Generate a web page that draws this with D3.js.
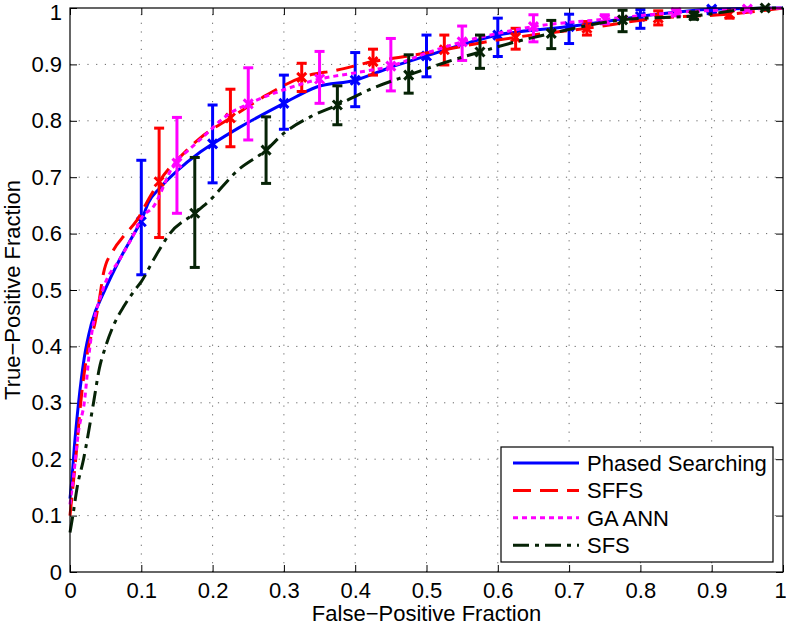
<!DOCTYPE html>
<html>
<head>
<meta charset="utf-8">
<script src="https://cdn.jsdelivr.net/npm/d3@7"></script>
<style>
  body { margin: 0; background: #fff; }
  text { font-family: "Liberation Sans", Arial, Helvetica, sans-serif; }
</style>
</head>
<body>
<div id="main"></div>
<script>
var ctx = {
    w: 786,
    h: 627,
    left: 70,
    right: 783,
    top: 8,
    bottom: 572
};

// tick values (both axes) and their labels
var ticks = [0, 0.1, 0.2, 0.3, 0.4, 0.5, 0.6, 0.7, 0.8, 0.9, 1];
var tickLabels = ["0", "0.1", "0.2", "0.3", "0.4", "0.5", "0.6", "0.7", "0.8", "0.9", "1"];

var seriesNames = ["Phased Searching", "SFFS", "GA ANN", "SFS"];

// ROC curves, [false-positive fraction, true-positive fraction]
var phasedCurve = [[0,0.13],[0.003,0.17],[0.006,0.22],[0.012,0.3],[0.02,0.38],[0.03,0.44],[0.049,0.5],
    [0.07,0.555],[0.09,0.6],[0.1,0.623],[0.11,0.655],[0.126,0.681],[0.15,0.711],[0.18,0.742],[0.2,0.759],
    [0.236,0.787],[0.3,0.831],[0.346,0.86],[0.4,0.872],[0.45,0.895],[0.5,0.915],[0.55,0.935],[0.6,0.952],
    [0.7,0.967],[0.8,0.985],[0.9,0.998],[1,1]];
var sffsCurve = [[0,0.1],[0.004,0.15],[0.008,0.2],[0.015,0.3],[0.026,0.4],[0.035,0.441],[0.042,0.49],
    [0.047,0.53],[0.061,0.571],[0.077,0.598],[0.094,0.624],[0.112,0.665],[0.125,0.692],[0.164,0.748],
    [0.182,0.769],[0.225,0.805],[0.275,0.845],[0.325,0.877],[0.375,0.89],[0.425,0.905],[0.475,0.915],
    [0.525,0.926],[0.575,0.938],[0.625,0.948],[0.725,0.964],[0.825,0.982],[0.925,0.989],[1,1]];
var gaannCurve = [[0,0.12],[0.005,0.17],[0.012,0.25],[0.02,0.3],[0.028,0.4],[0.046,0.5],[0.07,0.555],
    [0.09,0.6],[0.1,0.627],[0.117,0.648],[0.147,0.725],[0.166,0.748],[0.182,0.766],[0.224,0.813],
    [0.25,0.83],[0.3,0.855],[0.35,0.874],[0.4,0.885],[0.45,0.897],[0.5,0.92],[0.55,0.94],[0.6,0.955],
    [0.65,0.967],[0.75,0.98],[0.85,0.992],[0.95,0.998],[1,1]];
var sfsCurve = [[0,0.07],[0.004,0.1],[0.01,0.15],[0.019,0.2],[0.033,0.3],[0.041,0.36],[0.05,0.4],
    [0.062,0.44],[0.076,0.472],[0.091,0.5],[0.1,0.515],[0.12,0.56],[0.14,0.6],[0.175,0.636],[0.192,0.654],
    [0.236,0.713],[0.275,0.748],[0.3,0.778],[0.337,0.807],[0.375,0.828],[0.425,0.858],[0.475,0.881],
    [0.525,0.903],[0.575,0.922],[0.625,0.94],[0.675,0.955],[0.775,0.979],[0.875,0.986],[0.975,1],[1,1]];

// error bars, [fpf, mean tpf, low, high]
var phasedBars = [[0.1,0.621,0.527,0.73],[0.2,0.759,0.69,0.828],[0.3,0.831,0.785,0.881],
    [0.4,0.872,0.825,0.921],[0.5,0.915,0.878,0.952],[0.6,0.952,0.914,0.982],[0.7,0.967,0.937,0.989],
    [0.8,0.985,0.964,0.997],[0.9,0.998,0.99,1.0]];
var sffsBars = [[0.125,0.692,0.593,0.787],[0.225,0.805,0.754,0.856],[0.325,0.877,0.852,0.902],
    [0.425,0.905,0.881,0.927],[0.525,0.926,0.899,0.952],[0.625,0.948,0.927,0.964],[0.725,0.964,0.952,0.976],
    [0.825,0.982,0.97,0.995],[0.925,0.989,0.982,0.995]];
var gaannBars = [[0.15,0.725,0.636,0.806],[0.25,0.83,0.766,0.894],[0.35,0.874,0.831,0.923],
    [0.45,0.897,0.853,0.946],[0.55,0.94,0.907,0.968],[0.65,0.967,0.94,0.988],[0.75,0.98,0.972,0.988],
    [0.85,0.992,0.986,0.998],[0.95,0.998,0.995,1.0]];
var sfsBars = [[0.175,0.636,0.54,0.735],[0.275,0.748,0.689,0.807],[0.375,0.828,0.793,0.862],
    [0.475,0.881,0.849,0.917],[0.575,0.922,0.893,0.952],[0.675,0.955,0.928,0.978],[0.775,0.979,0.958,0.996],
    [0.875,0.986,0.98,0.993],[0.975,1.0,0.998,1.0]];

var series = [
    {name: seriesNames[0], curve: phasedCurve, bars: phasedBars, color: "#0000ff", dash: null},
    {name: seriesNames[1], curve: sffsCurve, bars: sffsBars, color: "#ff0000", dash: "18,9"},
    {name: seriesNames[2], curve: gaannCurve, bars: gaannBars, color: "#ff00ff", dash: "5,4"},
    {name: seriesNames[3], curve: sfsCurve, bars: sfsBars, color: "#062306", dash: "16,6,4,6"}
];

var svg = d3.select("#main").append("svg")
    .attr("width", ctx.w)
    .attr("height", ctx.h);

var x = d3.scaleLinear().domain([0, 1]).range([ctx.left, ctx.right]);
var y = d3.scaleLinear().domain([0, 1]).range([ctx.bottom, ctx.top]);

var fmt = function(d){ return tickLabels[ticks.indexOf(d)]; };

// dotted grid
var grid = svg.append("g").attr("class", "grid");
grid.selectAll("line.v").data(ticks.slice(1, -1)).enter().append("line")
    .attr("x1", function(d){ return x(d); }).attr("x2", function(d){ return x(d); })
    .attr("y1", ctx.bottom).attr("y2", ctx.top);
grid.selectAll("line.h").data(ticks.slice(1, -1)).enter().append("line")
    .attr("y1", function(d){ return y(d); }).attr("y2", function(d){ return y(d); })
    .attr("x1", ctx.left).attr("x2", ctx.right);
grid.selectAll("line")
    .style("stroke", "#666")
    .style("stroke-width", 1)
    .style("stroke-dasharray", "1.2,7.5");

// axes, ticks pointing inward on all four sides
var axB = svg.append("g").attr("transform", "translate(0," + ctx.bottom + ")")
    .call(d3.axisBottom(x).tickValues(ticks).tickFormat(fmt).tickSize(-7).tickSizeOuter(0).tickPadding(10));
var axL = svg.append("g").attr("transform", "translate(" + ctx.left + ",0)")
    .call(d3.axisLeft(y).tickValues(ticks).tickFormat(fmt).tickSize(-7).tickSizeOuter(0).tickPadding(8));
svg.append("g").attr("transform", "translate(0," + ctx.top + ")")
    .call(d3.axisTop(x).tickValues(ticks).tickFormat("").tickSize(-7).tickSizeOuter(0));
svg.append("g").attr("transform", "translate(" + ctx.right + ",0)")
    .call(d3.axisRight(y).tickValues(ticks).tickFormat("").tickSize(-7).tickSizeOuter(0));
svg.selectAll(".tick text")
    .style("font-size", "22px")
    .style("font-family", "'Liberation Sans', Arial, sans-serif")
    .style("fill", "#000");
// keep the end labels inside the page
axB.selectAll(".tick text").filter(function(d){ return d === 1; }).attr("dx", "-3");
axL.selectAll(".tick text").filter(function(d){ return d === 1; }).attr("dy", "0.52em");
svg.selectAll(".domain").remove();
svg.selectAll(".tick line").style("stroke", "#000");

var line = d3.line()
    .x(function(d){ return x(d[0]); })
    .y(function(d){ return y(d[1]); })
    .curve(d3.curveMonotoneX);

var plot = svg.append("g");
series.forEach(function(s){
    var g = plot.append("g");
    g.append("path")
        .datum(s.curve)
        .attr("d", line)
        .style("fill", "none")
        .style("stroke", s.color)
        .style("stroke-width", 3)
        .style("stroke-dasharray", s.dash);

    var bars = g.selectAll("g.bar").data(s.bars).enter().append("g")
        .style("stroke", s.color)
        .style("stroke-width", 3);
    bars.append("line")
        .attr("x1", function(d){ return x(d[0]); }).attr("x2", function(d){ return x(d[0]); })
        .attr("y1", function(d){ return y(d[2]); }).attr("y2", function(d){ return y(d[3]); });
    bars.append("line")
        .attr("x1", function(d){ return x(d[0]) - 5; }).attr("x2", function(d){ return x(d[0]) + 5; })
        .attr("y1", function(d){ return y(d[2]); }).attr("y2", function(d){ return y(d[2]); });
    bars.append("line")
        .attr("x1", function(d){ return x(d[0]) - 5; }).attr("x2", function(d){ return x(d[0]) + 5; })
        .attr("y1", function(d){ return y(d[3]); }).attr("y2", function(d){ return y(d[3]); });
    // x markers
    bars.append("path")
        .attr("d", function(d){
            var cx = x(d[0]), cy = y(d[1]), r = 4.5;
            return "M" + (cx - r) + "," + (cy - r) + "L" + (cx + r) + "," + (cy + r) +
                   "M" + (cx - r) + "," + (cy + r) + "L" + (cx + r) + "," + (cy - r);
        });
});

// box
svg.append("rect")
    .attr("x", ctx.left).attr("y", ctx.top)
    .attr("width", ctx.right - ctx.left).attr("height", ctx.bottom - ctx.top)
    .style("fill", "none").style("stroke", "#000").style("stroke-width", 1.2);

// axis titles
svg.append("text")
    .attr("x", (ctx.left + ctx.right) / 2).attr("y", 621)
    .attr("text-anchor", "middle")
    .style("font-size", "22px")
    .text("False\u2212Positive Fraction");
svg.append("text")
    .attr("transform", "translate(20," + (ctx.top + ctx.bottom) / 2 + ") rotate(-90)")
    .attr("text-anchor", "middle")
    .style("font-size", "22px")
    .text("True\u2212Positive Fraction");

// legend
var lg = svg.append("g").attr("transform", "translate(501,447)");
lg.append("rect")
    .attr("width", 272).attr("height", 115)
    .style("fill", "#fff").style("stroke", "#000").style("stroke-width", 1.2);
var items = lg.selectAll("g.item").data(series).enter().append("g")
    .attr("transform", function(d, i){ return "translate(0," + (16 + i * 27.4) + ")"; });
items.append("line")
    .attr("x1", 12).attr("x2", 78).attr("y1", 0).attr("y2", 0)
    .style("stroke", function(d){ return d.color; })
    .style("stroke-width", 3)
    .style("stroke-dasharray", function(d){ return d.dash; });
items.append("text")
    .attr("x", 86).attr("y", 0).attr("dy", "0.36em")
    .style("font-size", "22px")
    .text(function(d){ return d.name; });
</script>
</body>
</html>
